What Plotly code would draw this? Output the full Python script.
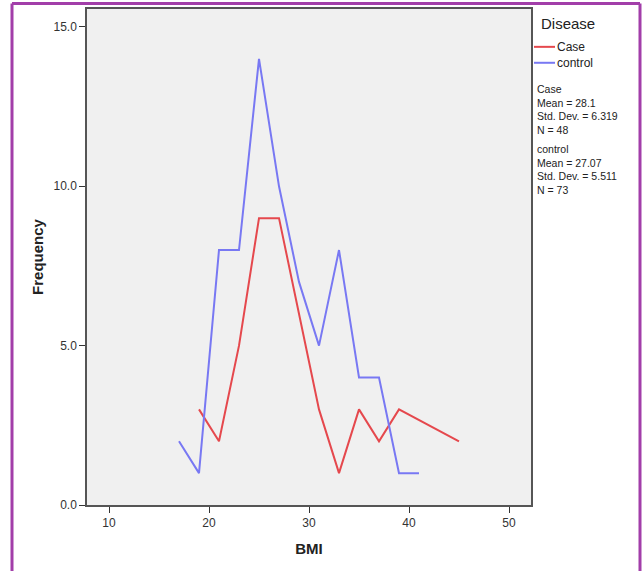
import plotly.graph_objects as go

# ---- data ----
case_bmi = [19, 21, 23, 25, 27, 29, 31, 33, 35, 37, 39, 45]
case_freq = [3, 2, 5, 9, 9, 6, 3, 1, 3, 2, 3, 2]
control_bmi = [17, 19, 21, 23, 25, 27, 29, 31, 33, 35, 37, 39, 41]
control_freq = [2, 1, 8, 8, 14, 10, 7, 5, 8, 4, 4, 1, 1]
y_ticks = [0, 5, 10, 15]
y_tick_labels = ["0.0", "5.0", "10.0", "15.0"]
x_ticks = [10, 20, 30, 40, 50]
legend_title = "Disease"
series_names = ["Case", "control"]
stats_case = ["Case", "Mean = 28.1", "Std. Dev. = 6.319", "N = 48"]
stats_control = ["control", "Mean = 27.07", "Std. Dev. = 5.511", "N = 73"]

RED = "#e5484d"
BLUE = "#7878f3"
FONT = "Liberation Sans, Arial, sans-serif"

W, H = 642, 571
L, R, T, B = 87, 531, 7, 505  # plot area pixel bounds


def px(x):
    return (x - L) / (R - L)


def py(y):
    return (B - y) / (B - T)


fig = go.Figure()
fig.add_trace(go.Scatter(x=case_bmi, y=case_freq, mode="lines", name=series_names[0],
                         line=dict(color=RED, width=2), showlegend=False))
fig.add_trace(go.Scatter(x=control_bmi, y=control_freq, mode="lines", name=series_names[1],
                         line=dict(color=BLUE, width=2), showlegend=False))

annotations = []
shapes = []

# purple outer frame (left, top, right)
frame_col = "#a23ea9"
shapes.append(dict(type="line", xref="paper", yref="paper", x0=px(12), x1=px(12), y0=py(1.5), y1=py(580),
                   line=dict(color=frame_col, width=3)))
shapes.append(dict(type="line", xref="paper", yref="paper", x0=px(12), x1=px(640), y0=py(1.5), y1=py(1.5),
                   line=dict(color=frame_col, width=3)))
shapes.append(dict(type="line", xref="paper", yref="paper", x0=px(640), x1=px(640), y0=py(1.5), y1=py(580),
                   line=dict(color=frame_col, width=3)))

# legend (manual)
annotations.append(dict(text=legend_title, xref="paper", yref="paper", x=px(539), y=py(22),
                        xanchor="left", yanchor="middle", showarrow=False,
                        font=dict(family=FONT, size=15, color="#222")))
for name, col, yy in [(series_names[0], RED, 45), (series_names[1], BLUE, 61)]:
    shapes.append(dict(type="line", xref="paper", yref="paper", x0=px(534), x1=px(555), y0=py(yy), y1=py(yy),
                       line=dict(color=col, width=2)))
    annotations.append(dict(text=name, xref="paper", yref="paper", x=px(555), y=py(yy),
                            xanchor="left", yanchor="middle", showarrow=False,
                            font=dict(family=FONT, size=12, color="#222")))

# stats blocks: one multi-line text per group
for lines, yc in [(stats_case, 108), (stats_control, 168.5)]:
    annotations.append(dict(text="<br>".join(lines), xref="paper", yref="paper", x=px(535), y=py(yc),
                            xanchor="left", yanchor="middle", align="left", showarrow=False,
                            font=dict(family=FONT, size=10.5, color="#222")))

fig.update_layout(
    width=W, height=H,
    margin=dict(l=L, r=W - R, t=T, b=H - B),
    paper_bgcolor="white",
    plot_bgcolor="#f0f0f0",
    font=dict(family=FONT, color="#333"),
    showlegend=False,
    shapes=shapes,
    annotations=annotations,
    xaxis=dict(
        range=[7.8, 52.2], tickvals=x_ticks, ticktext=[str(v) for v in x_ticks],
        showgrid=False, zeroline=False, showline=True, mirror=True,
        linecolor="#555", linewidth=1.5, ticks="outside", ticklen=6, tickcolor="#333",
        tickfont=dict(family=FONT, size=12, color="#333"),
        title=dict(text="<b>BMI</b>", font=dict(family=FONT, size=15, color="#222"), standoff=14),
    ),
    yaxis=dict(
        range=[0, (B - T) / 32], tickvals=y_ticks, ticktext=y_tick_labels,
        showgrid=False, zeroline=False, showline=True, mirror=True,
        linecolor="#555", linewidth=1.5, ticks="outside", ticklen=6, tickcolor="#333",
        tickfont=dict(family=FONT, size=12, color="#333"),
        title=dict(text="<b>Frequency</b>", font=dict(family=FONT, size=15, color="#222"), standoff=6),
    ),
)

fig.write_html("out.html", config={"displayModeBar": False},
               post_script="document.body.style.margin='0';document.body.style.overflow='hidden';")
